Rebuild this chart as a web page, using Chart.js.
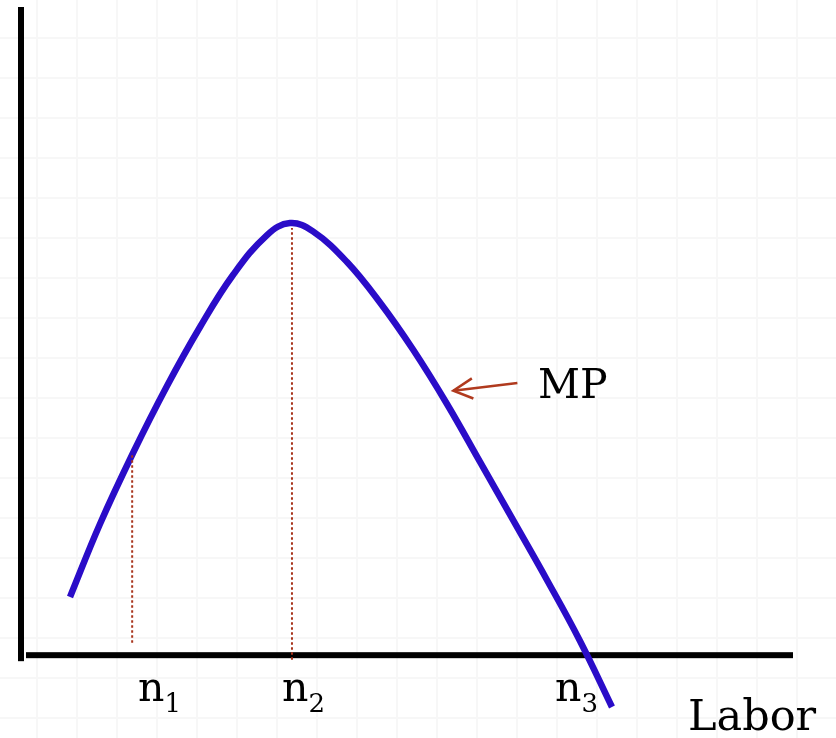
<!DOCTYPE html>
<html>
<head>
<meta charset="utf-8">
<script src="https://cdn.jsdelivr.net/npm/chart.js@4.4.1/dist/chart.umd.min.js"></script>
<style>
  html, body { margin: 0; padding: 0; background: #fff; }
  #mpChart { display: block; }
</style>
</head>
<body>
<canvas id="mpChart" width="836" height="738"></canvas>
<script>
// labor (x) and marginal product (y)
const laborValues = [6.35, 10.23, 14.51, 18.91, 23.19, 27.46, 31.87, 34.84, 37.82, 42.23, 46.50,
  50.78, 55.18, 59.46, 63.73, 68.13, 72.41, 76.55];
const mpValues = [8.98, 20.24, 31.19, 41.53, 50.63, 58.65, 64.82, 66.67, 65.38, 60.66, 54.41,
  47.15, 38.75, 29.81, 20.86, 11.60, 2.19, -7.99];

// dotted guide lines at n1 and n2
const n1Line = { x: 14.4, yFrom: 1.9, yTo: 31.2 };
const n2Line = { x: 35.1, yFrom: -0.7, yTo: 65.9 };

// arrow pointing at the MP curve
const arrowShaft = [[64.3, 42.0], [56.0, 40.8]];
const arrowHead = [[58.4, 42.7], [56.0, 40.8], [58.6, 39.6]];

const tickLabels = [
  { main: 'n', sub: '1', x: 138 },
  { main: 'n', sub: '2', x: 282 },
  { main: 'n', sub: '3', x: 555 }
];

const toPts = arr => arr.map(p => ({ x: p[0], y: p[1] }));
const serif = '"DejaVu Serif", "Liberation Serif", serif';
const guideColor = '#a8341c';

const backgroundGrid = {
  id: 'backgroundGrid',
  beforeDraw(chart) {
    const c = chart.ctx;
    c.save();
    c.fillStyle = '#ffffff';
    c.fillRect(0, 0, chart.width, chart.height);
    c.strokeStyle = '#f7f7f7';
    c.lineWidth = 2;
    for (let x = 37; x < chart.width; x += 40) {
      c.beginPath(); c.moveTo(x, 0); c.lineTo(x, chart.height); c.stroke();
    }
    for (let y = 38; y < chart.height; y += 40) {
      c.beginPath(); c.moveTo(0, y); c.lineTo(chart.width, y); c.stroke();
    }
    c.restore();
  },
  beforeDatasetsDraw(chart) {
    const c = chart.ctx;
    const xs = chart.scales.x, ys = chart.scales.y;
    const x0 = xs.getPixelForValue(0), y0 = ys.getPixelForValue(0);
    c.save();
    c.fillStyle = '#000';
    // y axis
    c.fillRect(x0 - 3, 7, 6, y0 + 6 - 7);
    // x axis
    c.fillRect(x0 + 5, y0 - 3, 793 - (x0 + 5), 6);
    c.restore();
  },
  afterDraw(chart) {
    const c = chart.ctx;
    c.save();
    c.fillStyle = '#000';
    c.textBaseline = 'alphabetic';
    c.textAlign = 'left';
    tickLabels.forEach(t => {
      c.font = '41px ' + serif;
      c.fillText(t.main, t.x, 701);
      const w = c.measureText(t.main).width;
      c.font = '26px ' + serif;
      c.fillText(t.sub, t.x + w, 712);
    });
    c.font = '41px ' + serif;
    c.fillText('MP', 538, 398);
    c.font = '43px ' + serif;
    c.fillText('Labor', 688, 730);
    c.restore();
  }
};

new Chart(document.getElementById('mpChart').getContext('2d'), {
  type: 'line',
  data: {
    datasets: [
      {
        label: 'n1',
        data: [{ x: n1Line.x, y: n1Line.yFrom }, { x: n1Line.x, y: n1Line.yTo }],
        borderColor: guideColor,
        borderWidth: 2,
        borderDash: [2.5, 2.5],
        pointRadius: 0
      },
      {
        label: 'n2',
        data: [{ x: n2Line.x, y: n2Line.yFrom }, { x: n2Line.x, y: n2Line.yTo }],
        borderColor: guideColor,
        borderWidth: 2,
        borderDash: [2.5, 2.5],
        pointRadius: 0
      },
      {
        label: 'MP',
        data: laborValues.map((x, i) => ({ x: x, y: mpValues[i] })),
        borderColor: '#2a0cc8',
        borderWidth: 6.5,
        borderCapStyle: 'butt',
        pointRadius: 0,
        tension: 0.4
      },
      {
        label: 'arrow',
        data: toPts(arrowShaft),
        borderColor: '#b03a1e',
        borderWidth: 2.5,
        pointRadius: 0
      },
      {
        label: 'arrowHead',
        data: toPts(arrowHead),
        borderColor: '#b03a1e',
        borderWidth: 2.5,
        borderJoinStyle: 'miter',
        pointRadius: 0
      }
    ]
  },
  options: {
    responsive: false,
    animation: false,
    devicePixelRatio: 1,
    clip: false,
    layout: { padding: { left: 21, right: 43, top: 7, bottom: 18 } },
    plugins: {
      legend: { display: false },
      tooltip: { enabled: false }
    },
    scales: {
      x: { type: 'linear', min: 0, max: 100, display: false },
      y: { type: 'linear', min: -10, max: 100, display: false }
    }
  },
  plugins: [backgroundGrid]
});
</script>
</body>
</html>
